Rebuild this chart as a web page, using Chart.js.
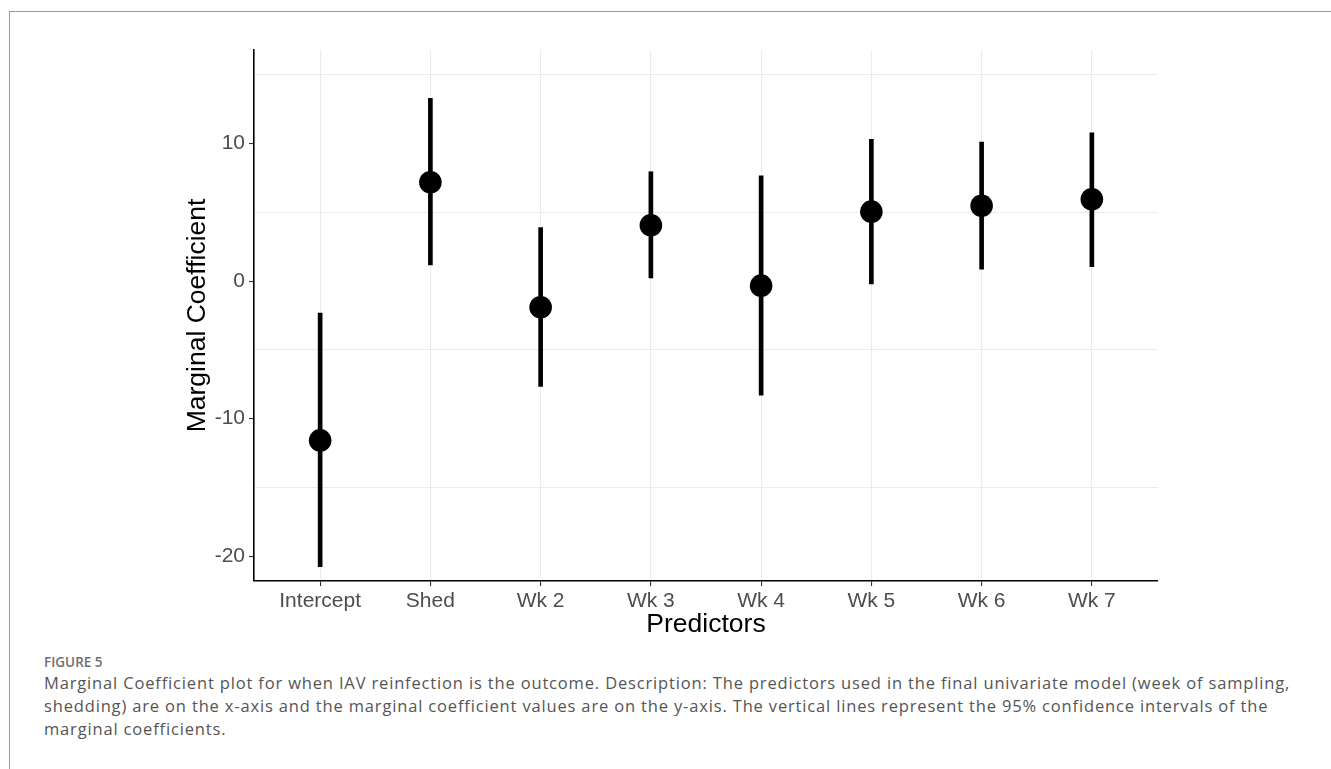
<!DOCTYPE html>
<html>
<head>
<meta charset="utf-8">
<script src="https://cdn.jsdelivr.net/npm/chart.js@4/dist/chart.umd.min.js"></script>
<style>
  html, body { margin:0; padding:0; background:#fff; width:1331px; height:769px; overflow:hidden; }
  #frameTop { position:absolute; left:9px; top:11px; width:1322px; height:0; border-top:1px solid #9a9a9a; }
  #frameLeft { position:absolute; left:9px; top:11px; width:0; height:758px; border-left:1px solid #9a9a9a; }
  #c { position:absolute; left:0; top:0; }
  .fig { position:absolute; left:44px; top:652px; font-family:'Open Sans', sans-serif; font-size:13.5px; font-weight:600; color:#6f6f6f; line-height:20px; white-space:nowrap; }
  .txt { position:absolute; left:44px; top:671px; font-family:'Open Sans', sans-serif; color:#555; font-size:16.5px; line-height:23px; letter-spacing:0.84px; white-space:nowrap; }
</style>
</head>
<body>
<div id="frameTop"></div>
<div id="frameLeft"></div>
<canvas id="c" width="1331" height="645"></canvas>
<div class="fig">FIGURE 5</div>
<div class="txt">Marginal Coefficient plot for when IAV reinfection is the outcome. Description: The predictors used in the final univariate model (week of sampling,<br>shedding) are on the x-axis and the marginal coefficient values are on the y-axis. The vertical lines represent the 95% confidence intervals of the<br>marginal coefficients.</div>
<script>
const categories = ['Intercept', 'Shed', 'Wk 2', 'Wk 3', 'Wk 4', 'Wk 5', 'Wk 6', 'Wk 7'];
const estimates  = [-11.58, 7.18, -1.90, 4.06, -0.33, 5.05, 5.48, 5.95];
const lowerCI    = [-20.75, 1.18, -7.66, 0.23, -8.29, -0.20, 0.86, 1.05];
const upperCI    = [-2.33, 13.28, 3.89, 7.95, 7.66, 10.30, 10.10, 10.78];
const yTickLabels = [-20, -10, 0, 10];
const yGridValues = [-15, -5, 5, 15];

const tickFont = { family: "'Liberation Sans', Arial, sans-serif", size: 21 };
const titleFont = { family: "'Liberation Sans', Arial, sans-serif", size: 26.5 };

new Chart(document.getElementById('c'), {
  type: 'scatter',
  data: {
    datasets: [
      {
        type: 'scatter',
        order: 0,
        data: categories.map((c, i) => ({ x: i, y: estimates[i] })),
        backgroundColor: '#000',
        borderWidth: 0,
        pointRadius: 11.3,
        pointHoverRadius: 11.3
      },
      {
        type: 'bar',
        order: 1,
        data: categories.map((c, i) => ({ x: i, y: [lowerCI[i], upperCI[i]] })),
        backgroundColor: '#000',
        borderWidth: 0,
        barThickness: 4,
        grouped: false
      }
    ]
  },
  options: {
    responsive: false,
    animation: false,
    events: [],
    layout: { padding: { left: 0, top: 50, right: 173, bottom: 0 } },
    plugins: { legend: { display: false }, tooltip: { enabled: false } },
    scales: {
      x: {
        type: 'linear',
        min: -0.6,
        max: 7.6,
        offset: false,
        ticks: {
          stepSize: 1,
          includeBounds: false,
          autoSkip: false,
          maxRotation: 0,
          color: '#4d4d4d',
          font: tickFont,
          padding: 3,
          callback: v => (categories[v] !== undefined ? categories[v] : '')
        },
        grid: { color: '#ebebeb', lineWidth: 1.1, tickColor: '#333', tickLength: 5, offset: false },
        border: { color: '#000', width: 1.6 },
        title: { display: true, text: 'Predictors', color: '#000', font: titleFont, padding: { top: 0, bottom: 4.6 } },
        afterFit: s => { s.height = 645 - 581; }
      },
      y: {
        type: 'linear',
        min: -21.8,
        max: 16.8,
        ticks: {
          stepSize: 5,
          includeBounds: false,
          color: '#4d4d4d',
          font: tickFont,
          padding: 4,
          callback: v => (yTickLabels.includes(v) ? String(v) : '')
        },
        grid: {
          color: ctx => (yGridValues.includes(ctx.tick.value) ? '#ebebeb' : 'rgba(0,0,0,0)'),
          tickColor: ctx => (yTickLabels.includes(ctx.tick.value) ? '#333' : 'rgba(0,0,0,0)'),
          lineWidth: 1.1,
          tickLength: 5
        },
        border: { color: '#000', width: 1.6 },
        title: { display: true, text: 'Marginal Coefficient', color: '#000', font: titleFont, padding: { top: 182, bottom: 0 } },
        afterFit: s => { s.width = 254; }
      }
    }
  }
});
</script>
</body>
</html>
